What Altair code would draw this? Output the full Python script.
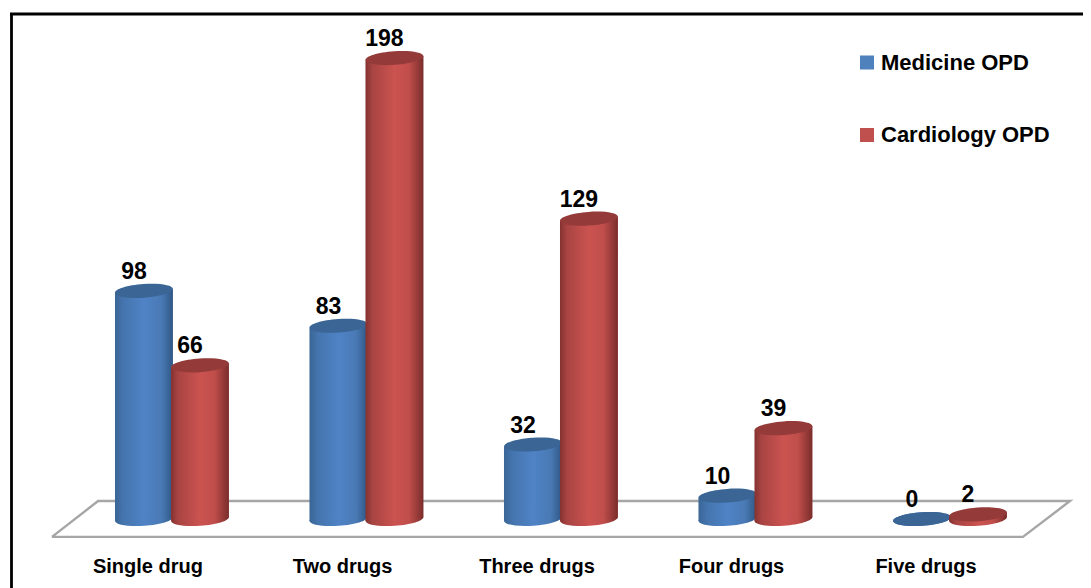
import altair as alt
import pandas as pd

categories = ["Single drug", "Two drugs", "Three drugs", "Four drugs", "Five drugs"]
medicine = [98, 83, 32, 10, 0]
cardiology = [66, 198, 129, 39, 2]
series_names = ["Medicine OPD", "Cardiology OPD"]
floor_x = [-0.617, -0.38, 4.617, 4.375, -0.617]
floor_y = [-7.7, 7.7, 7.7, -7.7, -7.7]

FONT = "Liberation Sans"
OFFSET = 0.144
HALF = 0.149
TILT = 0.86
ELLIPSE = "M-1,0A1,0.235,0,1,0,1,0A1,0.235,0,1,0,-1,0Z"
x_scale = alt.Scale(domain=[-0.843, 4.684], nice=False, zero=False)
y_scale = alt.Scale(domain=[-29.64, 219.5], nice=False, zero=False)
X = lambda f: alt.X(f, type="quantitative", scale=x_scale, axis=None)
Y = lambda f: alt.Y(f, type="quantitative", scale=y_scale, axis=None)


def grad(stops):
    return alt.LinearGradient(
        gradient="linear", x1=0, x2=1, y1=0, y2=0,
        stops=[alt.GradientStop(offset=o, color=c) for o, c in stops],
    )


body_blue = grad([(0, "#3a6596"), (0.15, "#4575ae"), (0.5, "#4f83c6"), (0.8, "#4a7ab5"), (1, "#2f5785")])
body_red = grad([(0, "#843230"), (0.12, "#a84442"), (0.5, "#cb5350"), (0.75, "#c04e4b"), (1, "#7a2d2b")])
cap_blue = "#3a6595"
cap_red = "#943b39"

rows = []
for name, vals, sign in [(series_names[0], medicine, -1), (series_names[1], cardiology, 1)]:
    for i, (c, v) in enumerate(zip(categories, vals)):
        rows.append({"series": name, "cat": c, "x": i + sign * OFFSET, "value": v, "base": 0})
df = pd.DataFrame(rows)

body_rows = []
for r in rows:
    for side in (-1, 1):
        body_rows.append({"series": r["series"], "cat": r["cat"], "x": r["x"] + side * HALF,
                          "top": r["value"] + side * TILT, "bottom": side * TILT})
body = pd.DataFrame(body_rows)


def cylinder(name, body_fill, cap):
    d = df[df.series == name]
    b = body[body.series == name]
    area = alt.Chart(b).mark_area(fill=body_fill, strokeWidth=0).encode(
        x=X("x"), y=Y("top"), y2=alt.Y2("bottom"), detail="cat:N")
    bottom = alt.Chart(d).mark_point(shape=ELLIPSE, filled=True, fill=body_fill, size=3364, angle=356,
                                     opacity=1, strokeWidth=0).encode(x=X("x"), y=Y("base"))
    top = alt.Chart(d).mark_point(shape=ELLIPSE, filled=True, fill=cap, size=3364, angle=356,
                                  opacity=1, strokeWidth=0).encode(x=X("x"), y=Y("value"))
    return [area, bottom, top]


floor = alt.Chart(pd.DataFrame({"x": floor_x, "y": floor_y, "o": range(5)})).mark_line(
    color="#a6a6a6", strokeWidth=2.4).encode(x=X("x"), y=Y("y"), order="o:Q")

left_rule = alt.Chart(pd.DataFrame({"a": [0]})).mark_rule(color="#000000", strokeWidth=2.8).encode(
    x=alt.value(3.5), y=alt.value(6), y2=alt.value(580))
top_rule = alt.Chart(pd.DataFrame({"a": [0]})).mark_rule(color="#000000", strokeWidth=2.8).encode(
    x=alt.value(2), x2=alt.value(1075), y=alt.value(6))

labels = alt.Chart(df).mark_text(font=FONT, fontWeight="bold", fontSize=23, dx=-10, dy=-19, color="#000000").encode(
    x=X("x"), y=Y("value"), text="value:Q")

cat_df = pd.DataFrame({"cat": categories, "x": range(5)})
cat_labels = alt.Chart(cat_df).mark_text(font=FONT, fontWeight="bold", fontSize=20, dx=-24, color="#000000").encode(
    x=X("x"), y=alt.value(559), text="cat:N")

legend_layer = alt.Chart(pd.DataFrame({"series": series_names, "x": [0, 0]})).mark_point(
    shape="square", filled=True, opacity=0, size=1).encode(
    x=X("x"), y=alt.value(0),
    color=alt.Color("series:N",
                    scale=alt.Scale(domain=series_names, range=["#4f81bd", "#c0504d"]),
                    legend=alt.Legend(orient="none", legendX=848, legendY=43.5, title=None,
                                      symbolType="square", symbolSize=196, symbolOpacity=1,
                                      symbolStrokeWidth=0,
                                      labelFont=FONT, labelFontWeight="bold", labelFontSize=22,
                                      labelColor="#000000", labelOffset=3, rowPadding=50.5,
                                      labelLimit=300)))

layers = [left_rule, top_rule, floor] + cylinder(series_names[0], body_blue, cap_blue) \
    + cylinder(series_names[1], body_red, cap_red) + [labels, cat_labels, legend_layer]

chart = alt.layer(*layers).properties(
    width=1075, height=580, padding=0, background="#ffffff",
    autosize=alt.AutoSizeParams(type="none"),
).configure_view(stroke=None)

chart.save("out.html", embed_options={"renderer": "svg", "actions": False})
